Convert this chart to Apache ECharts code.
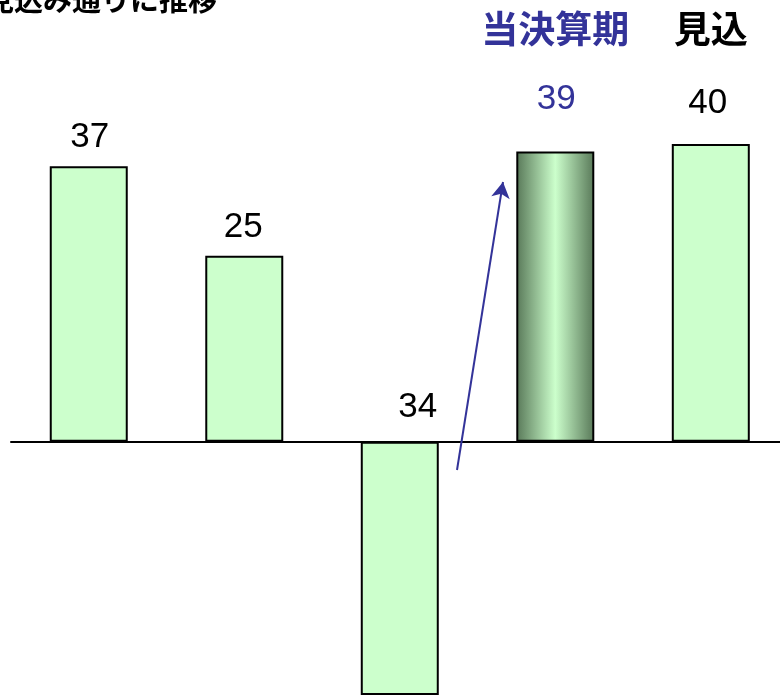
<!DOCTYPE html>
<html>
<head>
<meta charset="utf-8">
<style>
html,body{margin:0;padding:0;background:#fff;}
#chart{width:780px;height:695px;}
</style>
<script src="https://cdn.jsdelivr.net/npm/echarts@6/dist/echarts.min.js"></script>
</head>
<body>
<div id="chart"></div>
<script>
var categoryIndex = [0, 1, 2, 3, 4];
var headerLabels = ['', '', '', '当決算期', '見込'];
var values = [37, 25, -34, 39, 40];
var titleText = '見込み通りに推移';

var BLUE = '#333399';
var labelOffsets = [[1, -2], [-1, -2], [18, -8], [1, -26], [-3, -14]];
var highlightIndex = 3;

var seriesData = values.map(function (v, i) {
  var item = {
    value: [categoryIndex[i], v],
    label: { offset: labelOffsets[i] }
  };
  if (i === highlightIndex) {
    item.itemStyle = {
      color: {
        type: 'linear', x: 0, y: 0, x2: 1, y2: 0,
        colorStops: [
          { offset: 0, color: '#587858' },
          { offset: 0.5, color: '#ccffcc' },
          { offset: 1, color: '#587858' }
        ]
      }
    };
    item.label.color = BLUE;
  }
  return item;
});

var chart = echarts.init(document.getElementById('chart'));
chart.setOption({
  animation: false,
  backgroundColor: '#fff',
  graphic: [{
    type: 'text',
    left: -15,
    top: -15,
    style: {
      text: titleText,
      font: 'bold 29px "Noto Sans CJK JP"',
      fill: '#000'
    }
  }],
  grid: { left: 11, top: 69.5, right: 0, height: 625.5, containLabel: false },
  xAxis: [{
    type: 'value',
    min: -0.5,
    max: 4.445,
    position: 'bottom',
    axisLine: { show: true, onZero: true, lineStyle: { color: '#000', width: 2 } },
    axisTick: { show: false },
    axisLabel: { show: false },
    splitLine: { show: false }
  }, {
    type: 'value',
    min: -0.5,
    max: 4.445,
    position: 'top',
    axisLine: { show: false, onZero: false },
    axisTick: { show: false },
    axisLabel: {
      show: true,
      customValues: categoryIndex,
      hideOverlap: false,
      margin: 22,
      fontFamily: '"Noto Sans CJK JP"',
      fontWeight: 'bold',
      fontSize: 37,
      formatter: function (v) {
        var i = Math.round(v);
        return headerLabels[i] ? '{' + (i === highlightIndex ? 'b' : 'k') + '|' + headerLabels[i] + '}' : '';
      },
      rich: {
        b: { color: BLUE, fontFamily: '"Noto Sans CJK JP"', fontWeight: 'bold', fontSize: 37 },
        k: { color: '#000', fontFamily: '"Noto Sans CJK JP"', fontWeight: 'bold', fontSize: 37 }
      }
    },
    splitLine: { show: false }
  }],
  yAxis: {
    type: 'value',
    min: -34,
    max: 50,
    show: false,
    splitLine: { show: false }
  },
  series: [{
    type: 'bar',
    xAxisIndex: 0,
    data: seriesData,
    barWidth: 78,
    itemStyle: { color: '#ccffcc', borderColor: '#000', borderWidth: 2 },
    label: {
      show: true,
      position: 'top',
      distance: 9,
      color: '#000',
      fontFamily: '"Liberation Sans", Arial',
      fontSize: 35,
      formatter: function (p) { return String(Math.abs(p.value[1])); }
    },
    markLine: {
      silent: true,
      animation: false,
      symbol: ['none', 'arrow'],
      symbolSize: [14, 16],
      label: { show: false },
      lineStyle: { color: BLUE, width: 2, type: 'solid' },
      data: [[{ x: 457, y: 470 }, { x: 503, y: 182 }]]
    }
  }]
});
</script>
</body>
</html>
